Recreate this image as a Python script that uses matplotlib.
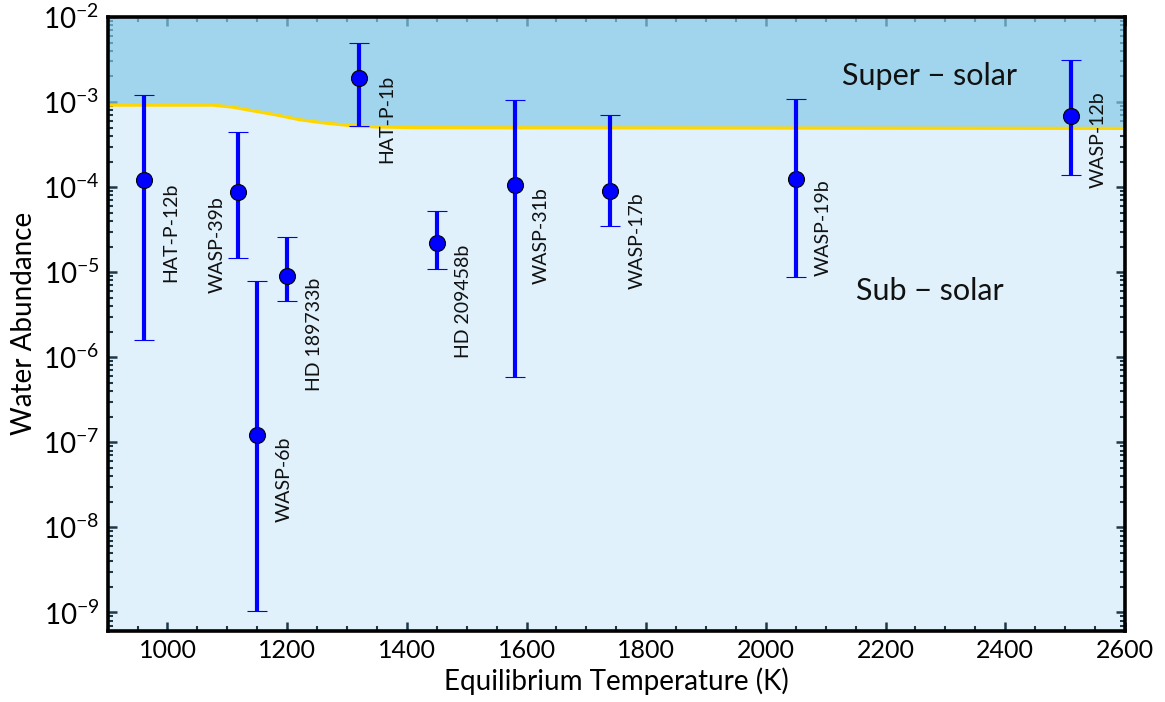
import numpy as np
import matplotlib
matplotlib.use("Agg")
import matplotlib.pyplot as plt
from matplotlib.ticker import MultipleLocator, FixedLocator, LogFormatterSciNotation, NullFormatter

plt.rcParams["font.family"] = ["Lato", "DejaVu Sans"]
plt.rcParams["mathtext.fontset"] = "custom"
plt.rcParams["mathtext.rm"] = "Lato"
plt.rcParams["mathtext.it"] = "Lato:italic"
plt.rcParams["mathtext.bf"] = "Lato:bold"

# Planets, equilibrium temperatures and retrieved water abundances
planets = ["HAT-P-12b", "WASP-39b", "WASP-6b", "HD 189733b", "HAT-P-1b",
           "HD 209458b", "WASP-31b", "WASP-17b", "WASP-19b", "WASP-12b"]
temp = [960, 1118, 1150, 1200, 1320, 1450, 1580, 1740, 2050, 2510]
abund = [1.2e-4, 8.7e-5, 1.23e-7, 9.1e-6, 1.9e-3,
         2.2e-5, 1.07e-4, 9.1e-5, 1.26e-4, 6.8e-4]
abund_hi = [1.2e-3, 4.4e-4, 7.9e-6, 2.6e-5, 4.9e-3,
            5.2e-5, 1.07e-3, 7.1e-4, 1.1e-3, 3.1e-3]
abund_lo = [1.6e-6, 1.45e-5, 1.05e-9, 4.6e-6, 5.3e-4,
            1.1e-5, 5.8e-7, 3.5e-5, 8.7e-6, 1.4e-4]

# solar water abundance boundary (yellow line)
solar_temp = [900, 1076, 1110, 1138, 1180, 1221, 1260, 1304, 1350, 1415, 2600]
solar_abund = [9.2e-4, 9.2e-4, 8.7e-4, 8.0e-4, 7.1e-4, 6.2e-4,
               5.7e-4, 5.3e-4, 5.1e-4, 5.0e-4, 4.9e-4]

# label offsets in pixels: (right, down) from the point to the top of the text
label_dx = [27, -21, 27, 27, 28, 27, 27, 27, 27, 27]
label_dy = [2, 4, 2, 2, -4, 2, 3, 2, 1, -25]

YMIN, YMAX = 6.1e-10, 1e-2
XMIN, XMAX = 900, 2600

fig = plt.figure(figsize=(11.65, 7.02), dpi=100)
ax = fig.add_axes([0.0924, 0.1016, 0.8732, 0.8742])
ax.set_axisbelow(True)

ax.fill_between(solar_temp, YMIN, solar_abund, color="#64B9EB", alpha=0.2,
                linewidth=0, zorder=1)
ax.fill_between(solar_temp, solar_abund, YMAX, color="#80C8E7", alpha=0.75,
                linewidth=0, zorder=1)
ax.plot(solar_temp, solar_abund, color="#FFD700", lw=2.3, zorder=1.5)

abund = np.array(abund)
yerr = [abund - np.array(abund_lo), np.array(abund_hi) - abund]
ax.errorbar(temp, abund, yerr=yerr, fmt="o", color="#0000FF", ecolor="#0000FF",
            elinewidth=3, capsize=7.5, capthick=1.4, markersize=11.5,
            markeredgecolor="black", markeredgewidth=0.8, zorder=3)

for name, t, a, dx, dy in zip(planets, temp, abund, label_dx, label_dy):
    ax.annotate(name, xy=(t, a), xytext=(dx * 0.72, -dy * 0.72),
                textcoords="offset points", rotation=90,
                ha="center", va="top", fontsize=14, color="#111111", zorder=4)

ax.text(2274, 2.0e-3, "Super \u2212 solar", fontsize=22, ha="center",
        va="center", color="#111111", zorder=4)
ax.text(2274, 6.0e-6, "Sub \u2212 solar", fontsize=22, ha="center",
        va="center", color="#111111", zorder=4)

ax.set_yscale("log")
ax.set_xlim(XMIN, XMAX)
ax.set_ylim(YMIN, YMAX)

major_y = [10.0 ** k for k in range(-9, -1)]
minor_y = [m * 10.0 ** k for k in range(-10, -2) for m in range(2, 10)
           if YMIN <= m * 10.0 ** k <= YMAX]
ax.xaxis.set_major_locator(MultipleLocator(200))
ax.xaxis.set_minor_locator(MultipleLocator(50))
ax.yaxis.set_major_locator(FixedLocator(major_y))
ax.yaxis.set_minor_locator(FixedLocator(minor_y))
ax.yaxis.set_major_formatter(LogFormatterSciNotation())
ax.yaxis.set_minor_formatter(NullFormatter())

ax.tick_params(which="both", direction="in", top=True, right=True,
               color="#10181e", pad=6)
ax.tick_params(axis="x", labelsize=18)
ax.tick_params(axis="y", labelsize=20)
ax.tick_params(which="major", length=6.5, width=1.8)
ax.tick_params(which="minor", length=3.5, width=1.5)

for sp in ax.spines.values():
    sp.set_linewidth(2.6)
    sp.set_color("black")

ax.set_xlabel("Equilibrium Temperature (K)", fontsize=20, labelpad=4)
ax.set_ylabel("Water Abundance", fontsize=20, labelpad=4)

fig.savefig("out.png", dpi=100)
